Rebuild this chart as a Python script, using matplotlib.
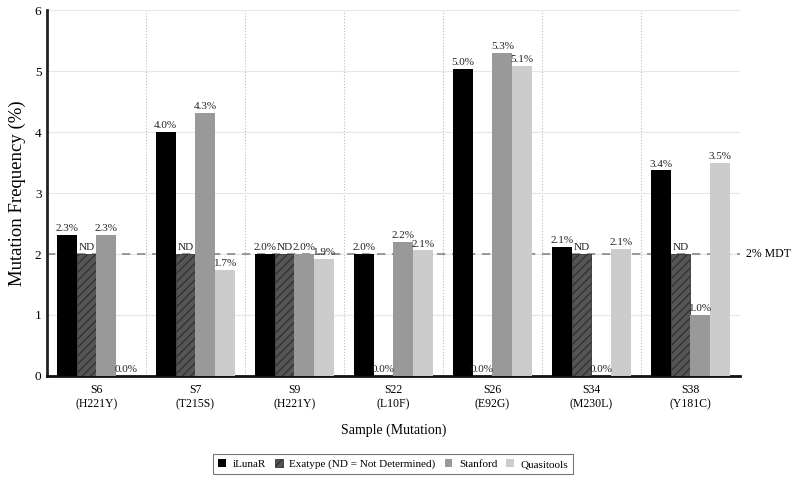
import matplotlib

matplotlib.use("Agg")
import matplotlib.pyplot as plt  # noqa: E402
import numpy as np  # noqa: E402

plt.rcParams["font.family"] = ["Liberation Serif", "DejaVu Serif"]
plt.rcParams["hatch.color"] = "#9a9a9a"
plt.rcParams["hatch.linewidth"] = 1.0

samples = ["S6\n(H221Y)", "S7\n(T215S)", "S9\n(H221Y)", "S22\n(L10F)",
           "S26\n(E92G)", "S34\n(M230L)", "S38\n(Y181C)"]
ilunar = [2.31, 4.0, 2.0, 2.0, 5.04, 2.12, 3.37]
# None = ND (not determined), drawn at the 2% threshold
exatype = [None, None, None, 0.0, 0.0, None, None]
stanford = [2.31, 4.31, 2.0, 2.2, 5.3, 0.0, 1.0]
quasitools = [0.0, 1.74, 1.92, 2.06, 5.09, 2.08, 3.49]
MDT = 2.0

series = [
    ("iLunaR", ilunar, "#000000", None),
    ("Exatype (ND = Not Determined)", exatype, "#555555", "////"),
    ("Stanford", stanford, "#999999", None),
    ("Quasitools", quasitools, "#cccccc", None),
]

fig = plt.figure(figsize=(7.91, 4.82), dpi=100)
ax = fig.add_axes([0.0594, 0.22, 0.876, 0.759])

x = np.arange(len(samples))
w = 0.2
for i, (name, vals, col, hatch) in enumerate(series):
    pos = x + (i - 1.5) * w
    h = [MDT if v is None else v for v in vals]
    ax.bar(pos, h, width=w, color=col, hatch=hatch, label=name,
           edgecolor=col if hatch is None else "#333333",
           linewidth=0.6 if hatch else 0, zorder=3)
    for p, v, hv in zip(pos, vals, h):
        txt = "ND" if v is None else f"{v:.1f}%"
        ax.text(p, hv + 0.03, txt, ha="center", va="bottom", fontsize=8,
                color="#222222", zorder=4)

ax.axhline(MDT, color="#888888", ls=(0, (5, 4)), lw=1.2, zorder=2)
ax.text(6.56, MDT, "2% MDT", ha="left", va="center", fontsize=8.5)

for b in x[:-1] + 0.5:
    ax.axvline(b, color="#bbbbbb", ls=":", lw=0.8, zorder=1)
ax.yaxis.grid(True, color="#e6e6e6", lw=0.8, zorder=0)

ax.set_xlim(-0.5, 6.5)
ax.set_ylim(0, 6)
ax.set_xticks(x)
ax.set_xticklabels(samples, fontsize=8.5)
ax.set_yticks(range(7))
ax.tick_params(axis="y", labelsize=9.5, length=0, pad=4)
ax.tick_params(axis="x", length=0, pad=6)
for s in ("top", "right"):
    ax.spines[s].set_visible(False)
ax.spines["left"].set_linewidth(2)
ax.spines["bottom"].set_linewidth(2)
ax.spines["left"].set_color("#222222")
ax.spines["bottom"].set_color("#111111")

ax.set_xlabel("Sample (Mutation)", fontsize=10, labelpad=10)
ax.set_ylabel("Mutation Frequency (%)", fontsize=13.5, labelpad=6)

leg = ax.legend(loc="upper center", bbox_to_anchor=(0.5, -0.205), ncol=4,
                fontsize=8, frameon=True, fancybox=False, edgecolor="#555555",
                handlelength=0.7, handleheight=0.7, handletextpad=0.6,
                columnspacing=0.8, borderpad=0.45, borderaxespad=0.3)
leg.get_frame().set_linewidth(0.8)

fig.savefig("out.png", dpi=100)
